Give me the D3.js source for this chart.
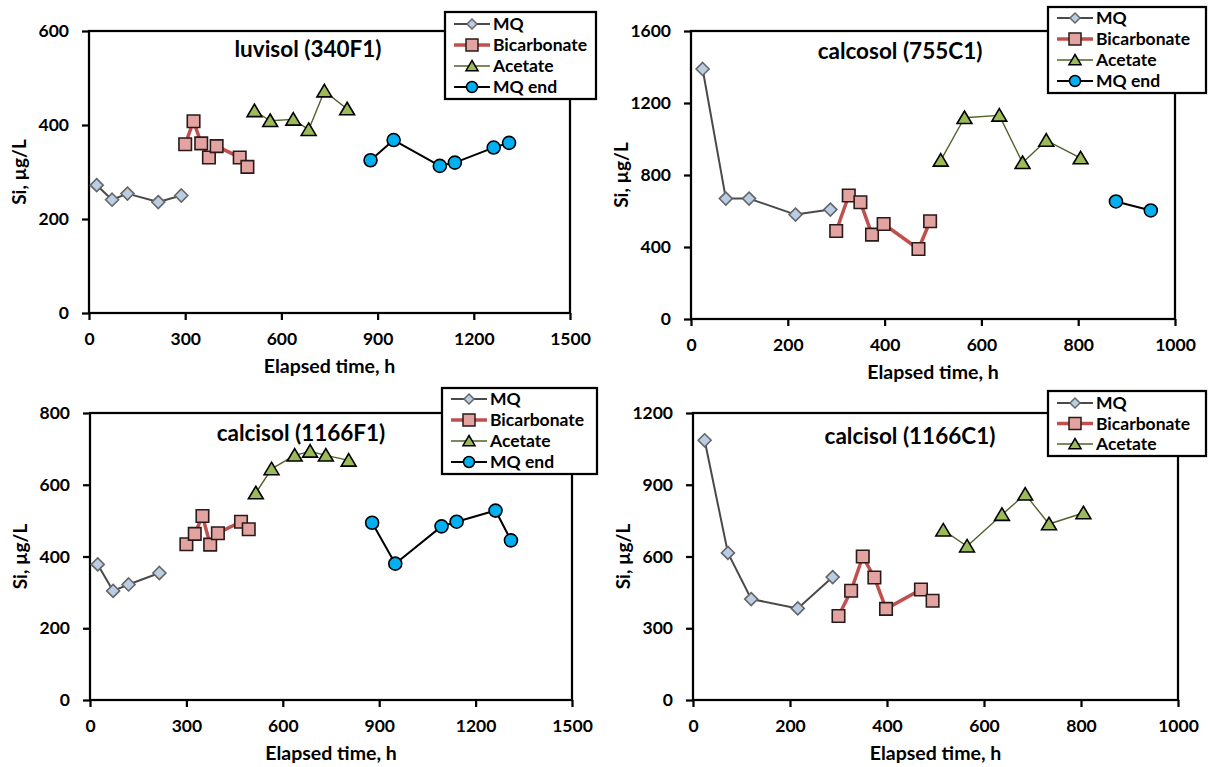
<!DOCTYPE html>
<html>
<head>
<meta charset="utf-8">
<script src="https://cdn.jsdelivr.net/npm/d3@7"></script>
<style>
  html, body { margin: 0; padding: 0; background: #ffffff; }
  svg { display: block; }
  text { font-family: Lato, "Open Sans", sans-serif; font-weight: bold; fill: #000; }
</style>
</head>
<body>
<svg id="chart" width="1208" height="767"></svg>
<script>
// Sampling times (h) for each leaching stage
const mqTime = [24, 72, 120, 216, 288];
const bicarbTime = [300, 326, 350, 374, 398, 470, 494];
const acetateTime = [516, 565, 637, 685, 734, 805];
const mqEndTime = [878, 950, 1094, 1141, 1262, 1310];

// Si concentrations (µg/L) — luvisol (340F1)
const luvisolMQ = [272, 241, 254, 236, 250];
const luvisolBicarb = [359, 408, 361, 331, 355, 331, 311];
const luvisolAcetate = [430, 409, 412, 390, 472, 434];
const luvisolMQEnd = [325, 368, 313, 320, 352, 362];

// calcosol (755C1)
const calcosolMQ = [1389, 669, 669, 580, 608];
const calcosolBicarb = [489, 686, 649, 469, 528, 389, 543];
const calcosolAcetate = [881, 1118, 1131, 868, 992, 894];
const calcosolMQEnd = [653, 603, null, null, null, null];

// calcisol (1166F1)
const calcisolFMQ = [378, 304, 322, 354, null];
const calcisolFBicarb = [434, 463, 513, 433, 465, 497, 476];
const calcisolFAcetate = [577, 644, 682, 693, 682, 668];
const calcisolFMQEnd = [494, 380, 484, 497, 528, 445];

// calcisol (1166C1)
const calcisolCMQ = [1086, 615, 422, 383, 514];
const calcisolCBicarb = [351, 457, 600, 512, 381, 462, 415];
const calcisolCAcetate = [710, 643, 775, 860, 736, 782];

// Axis ticks
const xTicksLong = [0, 300, 600, 900, 1200, 1500];
const xTicksShort = [0, 200, 400, 600, 800, 1000];
const yTicks340F1 = [0, 200, 400, 600];
const yTicks755C1 = [0, 400, 800, 1200, 1600];
const yTicks1166F1 = [0, 200, 400, 600, 800];
const yTicks1166C1 = [0, 300, 600, 900, 1200];

// Series styles
const styles = {
  "MQ":          { line: "#4a4a4a", width: 2,   marker: "diamond",  fill: "#b9cde5", stroke: "#666666" },
  "Bicarbonate": { line: "#c0504d", width: 3.5, marker: "square",   fill: "#e3a3a0", stroke: "#2a1a1a" },
  "Acetate":     { line: "#4f6228", width: 1.4, marker: "triangle", fill: "#9bbb59", stroke: "#000000" },
  "MQ end":      { line: "#000000", width: 2,   marker: "circle",   fill: "#00b0f0", stroke: "#000000" }
};

function markerPath(kind, s) {
  const h = s / 2;
  switch (kind) {
    case "diamond":  return `M0,${-h}L${h},0L0,${h}L${-h},0Z`;
    case "square":   return `M${-h},${-h}H${h}V${h}H${-h}Z`;
    case "triangle": return `M0,${-h}L${h * 1.1},${h * 0.85}L${-h * 1.1},${h * 0.85}Z`;
    default:         return d3.arc()({ innerRadius: 0, outerRadius: h, startAngle: 0, endAngle: 2 * Math.PI });
  }
}
const plotSize = { diamond: 13, square: 12.5, triangle: 13.5, circle: 13 };
const legendSize = { diamond: 10, square: 12, triangle: 11, circle: 11 };

const panels = [
  {
    title: "luvisol (340F1)", xMax: 1500, yMax: 600, xTicks: xTicksLong, yTicks: yTicks340F1,
    box: { left: 89, right: 570, top: 31, bottom: 313 }, titlePos: [308, 49],
    legend: { x: 445, y: 12, w: 151, rowY: 24, rowH: 21 },
    series: [
      { name: "MQ", t: mqTime, v: luvisolMQ },
      { name: "Bicarbonate", t: bicarbTime, v: luvisolBicarb },
      { name: "Acetate", t: acetateTime, v: luvisolAcetate },
      { name: "MQ end", t: mqEndTime, v: luvisolMQEnd }
    ]
  },
  {
    title: "calcosol (755C1)", xMax: 1000, yMax: 1600, xTicks: xTicksShort, yTicks: yTicks755C1,
    box: { left: 691, right: 1175, top: 31, bottom: 319 }, titlePos: [900, 51],
    legend: { x: 1048, y: 7, w: 158, rowY: 18, rowH: 21 },
    series: [
      { name: "MQ", t: mqTime, v: calcosolMQ },
      { name: "Bicarbonate", t: bicarbTime, v: calcosolBicarb },
      { name: "Acetate", t: acetateTime, v: calcosolAcetate },
      { name: "MQ end", t: mqEndTime, v: calcosolMQEnd }
    ]
  },
  {
    title: "calcisol (1166F1)", xMax: 1500, yMax: 800, xTicks: xTicksLong, yTicks: yTicks1166F1,
    box: { left: 90, right: 572, top: 413, bottom: 700 }, titlePos: [301, 433],
    legend: { x: 442, y: 388, w: 155, rowY: 399, rowH: 21 },
    series: [
      { name: "MQ", t: mqTime, v: calcisolFMQ },
      { name: "Bicarbonate", t: bicarbTime, v: calcisolFBicarb },
      { name: "Acetate", t: acetateTime, v: calcisolFAcetate },
      { name: "MQ end", t: mqEndTime, v: calcisolFMQEnd }
    ]
  },
  {
    title: "calcisol (1166C1)", xMax: 1000, yMax: 1200, xTicks: xTicksShort, yTicks: yTicks1166C1,
    box: { left: 693, right: 1178, top: 413, bottom: 700 }, titlePos: [910, 436],
    legend: { x: 1048, y: 391, w: 158, rowY: 403, rowH: 20.5 },
    series: [
      { name: "MQ", t: mqTime, v: calcisolCMQ },
      { name: "Bicarbonate", t: bicarbTime, v: calcisolCBicarb },
      { name: "Acetate", t: acetateTime, v: calcisolCAcetate }
    ]
  }
];

const svg = d3.select("#chart");

panels.forEach(p => {
  const b = p.box;
  const x = d3.scaleLinear().domain([0, p.xMax]).range([b.left, b.right]);
  const y = d3.scaleLinear().domain([0, p.yMax]).range([b.bottom, b.top]);
  const g = svg.append("g");

  // Plot frame
  g.append("rect")
    .attr("x", b.left).attr("y", b.top)
    .attr("width", b.right - b.left).attr("height", b.bottom - b.top)
    .attr("fill", "none").attr("stroke", "#000").attr("stroke-width", 2.25);

  // Axes
  const xAxis = g.append("g").attr("transform", `translate(0,${b.bottom})`)
    .call(d3.axisBottom(x).tickValues(p.xTicks).tickSize(7).tickSizeOuter(0).tickPadding(13).tickFormat(d3.format("d")));
  const yAxis = g.append("g").attr("transform", `translate(${b.left},0)`)
    .call(d3.axisLeft(y).tickValues(p.yTicks).tickSize(7).tickSizeOuter(0).tickPadding(13).tickFormat(d3.format("d")));
  [xAxis, yAxis].forEach(a => {
    a.select(".domain").remove();
    a.selectAll(".tick line").attr("stroke", "#000").attr("stroke-width", 2.25);
    a.selectAll(".tick text").style("font-size", "17.5px").style("font-family", "Lato, sans-serif").style("font-weight", "bold").attr("fill", "#000");
  });

  // Axis titles
  g.append("text")
    .attr("x", (b.left + b.right) / 2).attr("y", b.bottom + 53).attr("dy", "0.36em")
    .attr("text-anchor", "middle").style("font-size", "19.5px")
    .text("Elapsed time, h");
  g.append("text")
    .attr("transform", `translate(${b.left - 70},${(b.top + b.bottom) / 2}) rotate(-90)`)
    .attr("dy", "0.36em")
    .attr("text-anchor", "middle").style("font-size", "19px")
    .text("Si, µg/L");

  // Panel title
  g.append("text")
    .attr("x", p.titlePos[0]).attr("y", p.titlePos[1]).attr("dy", "0.36em")
    .attr("text-anchor", "middle").style("font-size", "22.5px")
    .text(p.title);

  // Series lines and markers
  p.series.forEach(s => {
    const st = styles[s.name];
    const pts = s.t.map((t, i) => ({ t, v: s.v[i] })).filter(d => d.v != null);
    const line = d3.line().x(d => x(d.t)).y(d => y(d.v));
    g.append("path").datum(pts)
      .attr("d", line).attr("fill", "none")
      .attr("stroke", st.line).attr("stroke-width", st.width).attr("stroke-linejoin", "round");
    g.selectAll(null).data(pts).enter().append("path")
      .attr("transform", d => `translate(${x(d.t)},${y(d.v)})`)
      .attr("d", markerPath(st.marker, plotSize[st.marker]))
      .attr("fill", st.fill).attr("stroke", st.stroke).attr("stroke-width", 1.6);
  });

  // Legend
  const L = p.legend;
  const names = p.series.map(s => s.name);
  const lh = L.rowY - L.y + (names.length - 1) * L.rowH + 12;
  const lg = g.append("g");
  lg.append("rect").attr("x", L.x).attr("y", L.y).attr("width", L.w).attr("height", lh)
    .attr("fill", "#fff").attr("stroke", "#000").attr("stroke-width", 2.25);
  names.forEach((n, i) => {
    const st = styles[n];
    const cy = L.rowY + i * L.rowH;
    lg.append("line").attr("x1", L.x + 9).attr("x2", L.x + 45).attr("y1", cy).attr("y2", cy)
      .attr("stroke", st.line).attr("stroke-width", st.width);
    lg.append("path").attr("transform", `translate(${L.x + 27},${cy})`)
      .attr("d", markerPath(st.marker, legendSize[st.marker]))
      .attr("fill", st.fill).attr("stroke", st.stroke).attr("stroke-width", 1.5);
    lg.append("text").attr("x", L.x + 48).attr("y", cy).attr("dy", "0.36em")
      .style("font-size", "17.5px").text(n);
  });
});
</script>
</body>
</html>
